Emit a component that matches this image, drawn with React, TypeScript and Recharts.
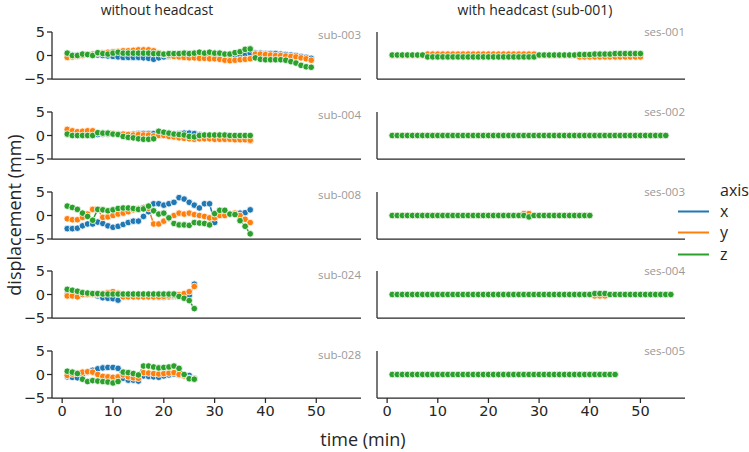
import React from 'react';
import { LineChart, Line, XAxis, YAxis } from 'recharts';

// time stamps (minutes)
const minutes = [1,2,3,4,5,6,7,8,9,10,11,12,13,14,15,16,17,18,19,20,21,22,23,24,25,26,27,28,29,30,31,32,33,34,35,36,37,38,39,40,41,42,43,44,45,46,47,48,49,50,51,52,53,54,55,56];

const xTicks = [0, 10, 20, 30, 40, 50];
const yTicks = [-5, 0, 5];
const axisNames = ['x', 'y', 'z'];
const colTitles = ['without headcast', 'with headcast (sub-001)'];
const leftLabels = ['sub-003', 'sub-004', 'sub-008', 'sub-024', 'sub-028'];
const rightLabels = ['ses-001', 'ses-002', 'ses-003', 'ses-004', 'ses-005'];

// ---- without headcast ----
const sub003_x = [0.2,0.1,0.1,0.2,0.2,0.1,0.1,0,-0.1,-0.2, -0.3,-0.4,-0.4,-0.4,-0.4,-0.5,-0.6,-0.8,-0.5,-0.3, -0.2,-0.1,0,0,0,0,0,0,0,0, 0,0,0,0,0.1,0.3,0.5,0.5,0.5,0.4, 0.4,0.4,0.3,0.2,0.1,0,-0.2,-0.4,-0.6];
const sub003_y = [-0.4,-0.3,-0.2,0,0.2,0.3,0.5,0.6,0.7,0.8, 0.9,1.0,1.0,1.1,1.2,1.2,1.2,1.0,0.6,0.2, 0,-0.2,-0.3,-0.4,-0.5,-0.5,-0.6,-0.6,-0.7,-0.7, -0.8,-1.0,-1.1,-1.0,-0.9,-0.8,-0.7,0.3,0.3,0.2, 0.1,0,0,-0.1,-0.2,-0.3,-0.5,-0.7,-1.0];
const sub003_z = [0.5,0,0,0.3,0.2,0,0.6,0.4,0.3,0.5, 0.7,0.5,0.5,0.5,0.5,0.5,0.5,0.4,0.4,0.3, 0.4,0.4,0.4,0.5,0.4,0.5,0.7,0.5,0.7,0.5, 0.5,0.3,0.3,0.6,0.8,1.3,1.4,-0.5,-0.8,-0.9, -0.9,-0.9,-0.9,-1.0,-1.3,-1.6,-2.1,-2.4,-2.5];

const sub004_x = [0.2,0.1,0,0,0,0,0.2,0.3,0.3,0.3, 0.3,0.2,0.2,0.3,0.4,0.4,0.4,0.4,0.2,0, 0,0.3,0.4,0.5,0.5,0.4,0.2,0,-0.2,-0.3, -0.4,-0.5,-0.6,-0.7,-0.8,-0.9,-1.1];
const sub004_y = [1.3,1.0,0.8,0.9,1.0,1.0,0.6,0.5,0.5,0.4, 0.3,0.3,0.2,0.1,0.2,0.1,0.1,-0.1,0,0, -0.2,-0.3,-0.5,-0.6,-0.7,-0.8,-0.7,-0.7,-0.7,-0.8, -0.8,-0.8,-0.8,-0.9,-0.9,-0.9,-1.0];
const sub004_z = [0.3,0,0,0,0,0,0.6,0.5,0.5,0.3, 0.2,-0.2,-0.4,-0.5,-0.7,-0.8,-0.8,-0.7,0.9,0.7, 0.5,0.3,0.2,0.1,-0.2,-0.3,0,0.1,0.1,0.1, 0.1,0.1,0,0,0,0,0];

const sub008_x = [-2.8,-2.8,-2.7,-2.2,-1.8,-1.8,-1.4,-1.7,-2.2,-2.5, -2.3,-1.9,-1.5,-1.2,-1.2,-0.2,0.8,2.5,2.5,2.2, 2.5,2.8,3.8,3.5,2.8,2.2,1.6,2.5,2.5,-1.5, 0.2,0.3,0.3,0.3,0.5,0.6,1.2];
const sub008_y = [-0.7,-0.9,-0.9,-0.4,0.3,1.3,1.3,-0.4,-0.3,0, 0.3,0.5,0.8,1.2,1.5,1.7,1.5,-1.8,-1.8,-1.2, -0.7,0,0.5,0.3,0.5,0.2,0,-0.2,-0.5,-0.5, 0,0,0.3,0.5,0,-0.8,-1.5];
const sub008_z = [2.0,1.7,1.3,0.5,-0.2,-1.0,1.3,1.2,1.0,1.2, 1.5,1.6,1.6,1.5,1.3,1.4,2.0,1.0,0.3,0.5, -0.5,-1.7,-2.0,-2.0,-2.1,-1.5,-1.6,-1.7,-2.0,0.4, 1.1,1.1,0.3,0.2,-1.1,-2.3,-3.9];

const sub024_x = [0,0,-0.1,0,0,0,-0.3,-0.7,-0.8,-0.9, -1.2,-0.5,-0.5,-0.5,-0.5,-0.5,-0.5,-0.6,-0.6,-0.6, -0.5,-0.4,-0.3,-0.2,-0.2,2.2];
const sub024_y = [-0.3,-0.3,-0.5,0,0,0,0,0.2,0.4,0.6, 0.3,-0.5,-0.5,-0.5,-0.5,-0.5,-0.5,-0.5,-0.5,-0.4, -0.3,-0.2,0,0.2,0.6,1.7];
const sub024_z = [1.1,0.9,0.7,0.4,0.3,0.2,0.2,0.1,0.1,0.1, 0.1,0.1,0.1,0.1,0.1,0.1,0.1,0.1,0.1,0.1, 0.1,0.1,-0.4,-0.8,-1.3,-3.0];

const sub028_x = [-0.5,-0.6,-0.7,0,0.5,0.9,1.2,1.4,1.5,1.5, 1.3,-0.8,-1.2,-1.2,-1.4,-0.3,-0.4,-0.5,-0.6,-0.3, -0.1,0.1,-0.1,-0.2,-0.2,-0.8];
const sub028_y = [-0.2,0.1,0.3,0.5,0.6,0.5,0,-0.4,-0.5,-0.6, -0.5,-0.1,-0.5,-0.7,-0.8,0.4,0.3,0.2,0.1,0.2, 0.3,0.4,0,-0.3,-0.8,-1.0];
const sub028_z = [0.7,0.5,0.2,-1.0,-1.5,-1.3,-1.4,-1.5,-1.6,-1.8, -1.5,0.5,0.4,0.2,-0.1,1.8,1.8,1.6,1.4,1.5, 1.6,1.8,1.3,0,-0.9,-1.0];

// ---- with headcast (sub-001) ----
const ses001_x = [0,0,0,0,0,0,0,0,0,0, 0,0,0,0,0,0,0,0,0,0, 0,0,0,0,0,0,0,0,0,0, 0,0,0,0,0,0,0,0,0,0, 0,0,0,0,0,0,0,0,0,0];
const ses001_y = [0,0,0,0,0,0,0,0.3,0.3,0.3, 0.3,0.3,0.3,0.3,0.3,0.3,0.3,0.3,0.3,0.3, 0.3,0.3,0.3,0.3,0.3,0.3,0.3,0.3,0.3,0, 0,0,0,0,0,0,0,-0.3,-0.3,-0.3, -0.3,-0.3,-0.3,-0.3,-0.3,-0.3,-0.3,-0.3,-0.3,-0.3];
const ses001_z = [0.1,0.1,0.1,0.1,0.1,0.1,0.1,-0.3,-0.3,-0.3, -0.3,-0.3,-0.3,-0.3,-0.3,-0.3,-0.3,-0.3,-0.3,-0.3, -0.3,-0.3,-0.3,-0.3,-0.3,-0.3,-0.3,-0.3,-0.3,0.1, 0.1,0.1,0.1,0.1,0.1,0.1,0.1,0.2,0.2,0.2, 0.3,0.3,0.3,0.3,0.4,0.4,0.4,0.4,0.4,0.4];

const ses002_x = [0,0,0,0,0,0,0,0,0,0, 0,0,0,0,0,0,0,0,0,0, 0,0,0,0,0,0,0,0,0,0, 0,0,0,0,0,0,0,0,0,0, 0,0,0,0,0,0,0,0,0,0, 0,0,0,0,0];
const ses002_y = [0,0,0,0,0,0,0,0,0,0, 0,0,0,0,0,0,0,0,0,0, 0,0,0,0,0,0,0,0,0,0, 0,0,0,0,0,0,0,0,0,0, 0,0,0,0,0,0,0,0,0,0, 0,0,0,0,0];
const ses002_z = [0,0,0,0,0,0,0,0,0,0, 0,0,0,0,0,0,0,0,0,0, 0,0,0,0,0,0,0,0,0,0, 0,0,0,0,0,0,0,0,0,0, 0,0,0,0,0,0,0,0,0,0, 0,0,0,0,0];

const ses003_x = [0,0,0,0,0,0,0,0,0,0, 0,0,0,0,0,0,0,0,0,0, 0,0,0,0,0,0,0,0,0,0, 0,0,0,0,0,0,0,0,0,0];
const ses003_y = [0,0,0,0,0,0,0,0,0,0, 0,0,0,0,0,0,0,0,0,0, 0,0,0,0,0,0,0.4,0.4,0,0, 0,0,0,0,0,0,0,0,0,0];
const ses003_z = [0,0,0,0,0,0,0,0,0,0, 0,0,0,0,0,0,0,0,0,0, 0,0,0,0,0,0,0,-0.3,0,0, 0,0,0,0,0,0,0,0,0,0];

const ses004_x = [0,0,0,0,0,0,0,0,0,0, 0,0,0,0,0,0,0,0,0,0, 0,0,0,0,0,0,0,0,0,0, 0,0,0,0,0,0,0,0,0,0, 0,0,0,0,0,0,0,0,0,0, 0,0,0,0,0,0];
const ses004_y = [0,0,0,0,0,0,0,0,0,0, 0,0,0,0,0,0,0,0,0,0, 0,0,0,0,0,0,0,0,0,0, 0,0,0,0,0,0,0,0,0,0, -0.3,-0.3,-0.3,0,0,0,0,0,0,0, 0,0,0,0,0,0];
const ses004_z = [0,0,0,0,0,0,0,0,0,0, 0,0,0,0,0,0,0,0,0,0, 0,0,0,0,0,0,0,0,0,0, 0,0,0,0,0,0,0,0,0,0, 0.2,0.2,0.2,0,0,0,0,0,0,0, 0,0,0,0,0,0];

const ses005_x = [0,0,0,0,0,0,0,0,0,0, 0,0,0,0,0,0,0,0,0,0, 0,0,0,0,0,0,0,0,0,0, 0,0,0,0,0,0,0,0,0,0, 0,0,0,0,0];
const ses005_y = [0,0,0,0,0,0,0,0,0,0, 0,0,0,0,0,0,0,0,0,0, 0,0,0,0,0,0,0,0,0,0, 0,0,0,0,0,0,0,0,0,0, 0,0,0,0,0];
const ses005_z = [0,0,0,0,0,0,0,0,0,0, 0,0,0,0,0,0,0,0,0,0, 0,0,0,0,0,0,0,0,0,0, 0,0,0,0,0,0,0,0,0,0, 0,0,0,0,0];

const COLORS = ['#1f77b4', '#ff7f0e', '#2ca02c'];
const AXIS = '#262626';
const TEXT_FONT = '"Open Sans", "Noto Sans", sans-serif';
const TICK_FONT = '"DejaVu Sans", sans-serif';

function rows(xs: number[], ys: number[], zs: number[]) {
  return xs.map((v, i) => ({ t: minutes[i], x: v, y: ys[i], z: zs[i] }));
}

const leftData = [
  rows(sub003_x, sub003_y, sub003_z),
  rows(sub004_x, sub004_y, sub004_z),
  rows(sub008_x, sub008_y, sub008_z),
  rows(sub024_x, sub024_y, sub024_z),
  rows(sub028_x, sub028_y, sub028_z),
];
const rightData = [
  rows(ses001_x, ses001_y, ses001_z),
  rows(ses002_x, ses002_y, ses002_z),
  rows(ses003_x, ses003_y, ses003_z),
  rows(ses004_x, ses004_y, ses004_z),
  rows(ses005_x, ses005_y, ses005_z),
];

const ROW_TOPS = [31.7, 111.6, 191.5, 271.4, 351.3];
const PLOT_H = 47;
const TOP_PAD = 15;
const X_H = 30;

const fmt = (v: number) => (v < 0 ? '\u2212' + Math.abs(v) : String(v));

function Panel(props: { data: any[]; left: number; top: number; width: number; yw: number; mr: number; yLabels: boolean; xLabels: boolean }) {
  const { data, left, top, width, yw, mr, yLabels, xLabels } = props;
  const tickStyle = { fontFamily: TICK_FONT, fontSize: 14.5, fill: AXIS };
  return (
    <div style={{ position: 'absolute', left, top: top - TOP_PAD }}>
      <LineChart width={width} height={TOP_PAD + PLOT_H + X_H} data={data} margin={{ top: TOP_PAD, right: mr, bottom: 0, left: 0 }}>
        <XAxis
          type="number"
          dataKey="t"
          domain={[-2, 58.8]}
          ticks={xTicks}
          allowDataOverflow
          height={X_H}
          tickSize={5}
          tickMargin={3}
          tick={xLabels ? tickStyle : false}
          tickFormatter={fmt}
          axisLine={{ stroke: AXIS, strokeWidth: 1.25 }}
          tickLine={{ stroke: AXIS, strokeWidth: 1.25 }}
        />
        <YAxis
          type="number"
          domain={[-5, 5]}
          ticks={yTicks}
          allowDataOverflow
          width={yw}
          tickSize={5}
          tickMargin={2}
          tick={yLabels ? tickStyle : false}
          tickFormatter={fmt}
          axisLine={{ stroke: AXIS, strokeWidth: 1.25 }}
          tickLine={{ stroke: AXIS, strokeWidth: 1.25 }}
        />
        {axisNames.map((k, i) => (
          <Line
            key={k}
            dataKey={k}
            type="linear"
            stroke={COLORS[i]}
            strokeWidth={1.5}
            dot={{ r: 3.3, fill: COLORS[i], stroke: '#ffffff', strokeWidth: 0.8 }}
            isAnimationActive={false}
          />
        ))}
      </LineChart>
    </div>
  );
}

export default function App() {
  return (
    <div style={{ position: 'absolute', left: 0, top: 0, width: 749, height: 452, background: '#fff' }}>
      {leftData.map((d, i) => (
        <Panel key={'l' + i} data={d} left={0} top={ROW_TOPS[i]} width={370} yw={52} mr={9} yLabels xLabels={i === 4} />
      ))}
      {rightData.map((d, i) => (
        <Panel key={'r' + i} data={d} left={360} top={ROW_TOPS[i]} width={335} yw={17} mr={10} yLabels={false} xLabels={i === 4} />
      ))}
      <svg width={749} height={452} style={{ position: 'absolute', left: 0, top: 0, pointerEvents: 'none' }}>
        <text x={157} y={15} textAnchor="middle" fontFamily={TEXT_FONT} fontSize={14} fill={AXIS}>{colTitles[0]}</text>
        <text x={535} y={15} textAnchor="middle" fontFamily={TEXT_FONT} fontSize={14} fill={AXIS}>{colTitles[1]}</text>
        {leftLabels.map((s, i) => (
          <text key={s} x={361} y={ROW_TOPS[i] + 7.5} textAnchor="end" fontFamily={TEXT_FONT} fontSize={11.5} fill="#999999">{s}</text>
        ))}
        {rightLabels.map((s, i) => (
          <text key={s} x={685} y={ROW_TOPS[i] + 4} textAnchor="end" fontFamily={TEXT_FONT} fontSize={11.5} fill="#999999">{s}</text>
        ))}
        <text x={0} y={0} transform="translate(21,215) rotate(-90)" textAnchor="middle" fontFamily={TEXT_FONT} fontSize={18} fill={AXIS}>displacement (mm)</text>
        <text x={363} y={446} textAnchor="middle" fontFamily={TEXT_FONT} fontSize={18} fill={AXIS}>time (min)</text>
        <text x={720} y={196} fontFamily={TEXT_FONT} fontSize={16} fill={AXIS}>axis</text>
        {axisNames.map((k, i) => {
          const ly = [211.5, 232.5, 254.5][i];
          return (
            <g key={k}>
              <line x1={678} x2={709} y1={ly} y2={ly} stroke={COLORS[i]} strokeWidth={2} />
              <text x={720} y={ly + 5} fontFamily={TEXT_FONT} fontSize={16} fill={AXIS}>{k}</text>
            </g>
          );
        })}
      </svg>
    </div>
  );
}
